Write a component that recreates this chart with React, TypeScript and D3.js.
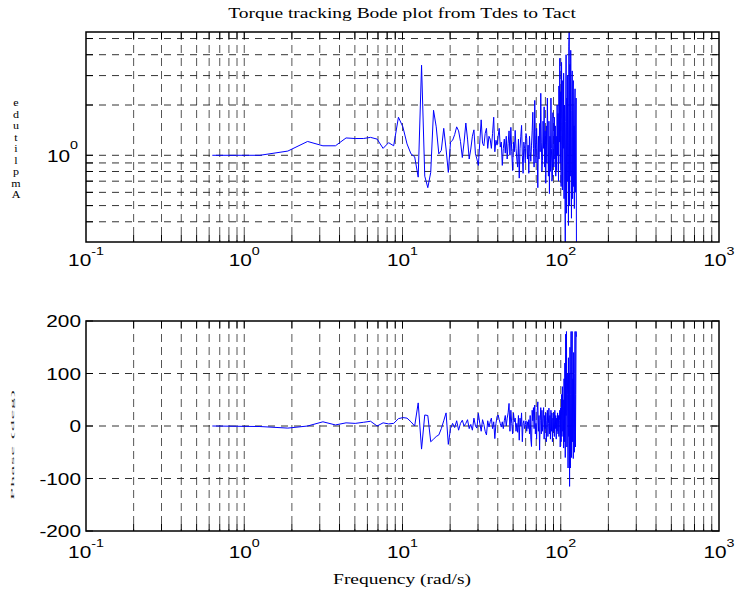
import React, { useEffect, useRef } from 'react';
import * as d3 from 'd3';

// frequency bins are spaced 0.1 Hz apart (in rad/s)
const freqStep = 0.2 * Math.PI;

const amplitude = [
  1.0, 1.0, 1.06, 1.21, 1.14, 1.14, 1.27, 1.26, 1.26, 1.28,
  1.25, 1.1, 1.19, 1.14, 1.69, 1.48, 1.17, 1.02, 0.98, 0.74,
  3.46, 0.75, 0.64, 0.79, 1.86, 1.48, 1.02, 1.07, 1.45, 1.09,
  0.79, 1.2, 1.23, 1.33, 1.48, 1.4, 1.21, 0.97, 1.2, 1.56,
  1.25, 0.95, 1.09, 1.3, 1.42, 1.02, 0.95, 0.87, 1.2, 1.63,
  1.18, 1.14, 1.35, 1.45, 1.1, 1.3, 1.25, 1.1, 1.35, 1.69,
  1.05, 1.23, 1.15, 1.3, 1.45, 1.12, 1.2, 0.87, 1.1, 1.25,
  1.03, 1.3, 0.95, 1.18, 1.4, 1.0, 1.47, 1.05, 0.81, 1.2,
  1.05, 1.41, 1.1, 0.95, 0.85, 1.25, 0.73, 1.1, 1.3, 1.51,
  1.0, 0.78, 1.2, 1.1, 0.9, 1.35, 1.26, 0.95, 1.15, 0.78,
  1.3, 1.05, 0.92, 1.15, 1.4, 1.81, 1.1, 0.85, 2.13, 1.2,
  0.9, 1.45, 1.0, 0.64, 1.3, 0.95, 1.55, 1.05, 2.35, 1.2,
  0.8, 0.93, 1.6, 1.1, 1.95, 0.85, 1.4, 0.68, 1.5, 0.9,
  2.2, 1.2, 0.75, 1.6, 0.59, 1.3, 0.8, 2.2, 1.1, 0.7,
  0.74, 1.8, 1.0, 0.85, 1.69, 0.95, 1.5, 0.75, 1.3, 0.81,
  2.0, 1.0, 1.78, 0.7, 2.6, 1.2, 3.81, 0.9, 2.4, 0.65,
  3.6, 1.5, 0.62, 2.8, 1.1, 3.1, 0.55, 2.0, 0.8, 0.3,
  1.6, 4.0, 0.45, 2.2, 0.7, 3.0, 1.2, 0.38, 4.5, 5.6,
  0.5, 3.5, 0.75, 4.25, 1.3, 0.42, 1.86, 3.2, 0.55, 2.4,
  2.8, 0.65, 1.5, 0.48, 2.0, 2.5, 0.6, 1.4, 2.2, 0.28,
];

const phase = [
  0, -1, -4, 0, 8, 2, 6, 5, 7, 9,
  0, 6, 4, 5, 14, 16, 15, 8, 0, 44,
  -44, 21, 20, -30, -25, -20, -17, -5, 10, 25,
  -35, -5, 5, -3, 10, -8, 5, 11, 0, 5,
  12, -5, 3, -8, 15, 0, -4, 24, 5, -10,
  12, 3, -10, -17, 10, -2, 8, 15, -5, 8,
  -24, 5, 18, 21, 12, 5, -2, 8, -5, 10,
  20, 0, 15, 25, 43, -10, 30, 5, -15, 25,
  8, 15, -10, 5, -12, 20, -27, 15, 0, 25,
  -30, 5, 10, -5, 3, 10, -10, 8, -5, 12,
  -15, 20, -25, -39, 30, 10, 35, -5, 40, -15,
  5, -25, 30, 46, -10, 20, -46, 10, 35, -15,
  30, -10, 15, 35, -25, 20, -5, 25, -30, 10,
  30, -20, 5, 34, -15, 20, -25, 30, -10, 25,
  -30, 15, -10, 25, -20, 30, -5, 20, -25, 15,
  -10, 25, -15, 20, -20, 10, 30, -40, 35, -30,
  60, -20, 75, -10, 50, -42, 90, -30, 120, -60,
  175, 20, 180, -40, 100, 60, -80, 130, -20, 100,
  -115, 150, -80, 60, 180, -60, 120, 180, -30, 90,
  -62, 140, 20, -50, 100, 180, -40, 60, 180, 170,
];

const xTickExponents = [-1, 0, 1, 2, 3];
const minorMultiples = [2, 3, 4, 5, 6, 7, 8, 9];
const ampGridValues = [0.4, 0.5, 0.6, 0.7, 0.8, 0.9, 1, 2, 3, 4, 5];
const ampLabelExponents = [0];
const phaseTicks = [-200, -100, 0, 100, 200];

const titleText = 'Torque tracking Bode plot from Tdes to Tact';
const xLabelText = 'Frequency (rad/s)';
const ampLabelText = 'Amplitude';
const phaseLabelText = 'Phase (deg)';

const sans = '"Liberation Sans", Arial, Helvetica, sans-serif';
const serif = '"Liberation Serif", "Times New Roman", serif';
const stretch = 1.3;

function drawChart(el: SVGSVGElement) {
  const svg = d3.select(el);
  svg.selectAll('*').remove();

  const left = 86;
  const right = 719;
  const x = d3.scaleLog().domain([0.1, 1000]).range([left, right]);

  const gridX: number[] = [];
  xTickExponents.slice(0, -1).forEach(e => {
    minorMultiples.forEach(m => gridX.push(m * Math.pow(10, e)));
    if (e > -1) gridX.push(Math.pow(10, e));
  });

  const freq = amplitude.map((_, i) => freqStep * (i + 1));

  const panels = [
    {
      top: 32,
      bottom: 242,
      y: d3.scaleLog().domain([0.3027, 5.47]),
      grid: ampGridValues,
      ticks: ampGridValues,
      values: amplitude,
      labelBase: 266,
    },
    {
      top: 321,
      bottom: 531,
      y: d3.scaleLinear().domain([-200, 200]),
      grid: phaseTicks.slice(1, -1),
      ticks: phaseTicks,
      values: phase,
      labelBase: 558,
    },
  ];

  panels.forEach((p, pi) => {
    const y = p.y.range([p.bottom, p.top]) as any;
    const g = svg.append('g');

    g.append('rect')
      .attr('x', left).attr('y', p.top)
      .attr('width', right - left).attr('height', p.bottom - p.top)
      .attr('fill', '#fff');

    // dashed grid
    g.selectAll('.vgrid')
      .data(gridX)
      .enter()
      .append('line')
      .attr('x1', d => x(d)).attr('x2', d => x(d))
      .attr('y1', p.top).attr('y2', p.bottom)
      .attr('stroke', '#555').attr('stroke-width', 1)
      .attr('stroke-dasharray', '8,5');
    g.selectAll('.hgrid')
      .data(p.grid)
      .enter()
      .append('line')
      .attr('x1', left).attr('x2', right)
      .attr('y1', d => y(d)).attr('y2', d => y(d))
      .attr('stroke', '#333').attr('stroke-width', 1)
      .attr('stroke-dasharray', '7,6');

    // data
    const clipId = `clip${pi}`;
    g.append('clipPath').attr('id', clipId)
      .append('rect')
      .attr('x', left).attr('y', p.top)
      .attr('width', right - left).attr('height', p.bottom - p.top);
    const line = d3.line<number>()
      .x((_, i) => x(freq[i]))
      .y(d => y(d));
    g.append('path')
      .datum(p.values)
      .attr('clip-path', `url(#${clipId})`)
      .attr('d', line)
      .attr('fill', 'none')
      .attr('stroke', '#0000ff')
      .attr('stroke-width', 1);

    // ticks, inward on all four sides
    const tl = 7;
    const ticks = g.append('g').attr('stroke', '#000').attr('stroke-width', 1);
    gridX.forEach(v => {
      ticks.append('line').attr('x1', x(v)).attr('x2', x(v)).attr('y1', p.bottom).attr('y2', p.bottom - tl);
      ticks.append('line').attr('x1', x(v)).attr('x2', x(v)).attr('y1', p.top).attr('y2', p.top + tl);
    });
    p.ticks.forEach(v => {
      ticks.append('line').attr('x1', left).attr('x2', left + tl).attr('y1', y(v)).attr('y2', y(v));
      ticks.append('line').attr('x1', right).attr('x2', right - tl).attr('y1', y(v)).attr('y2', y(v));
    });

    // box
    g.append('rect')
      .attr('x', left).attr('y', p.top)
      .attr('width', right - left).attr('height', p.bottom - p.top)
      .attr('fill', 'none').attr('stroke', '#000').attr('stroke-width', 1.5);

    // x tick labels 10^n
    xTickExponents.forEach(e => {
      const t = g.append('text')
        .attr('transform', `translate(${x(Math.pow(10, e))},${p.labelBase}) scale(${stretch},1)`)
        .attr('text-anchor', 'middle')
        .style('font-family', sans).style('font-size', '16px').attr('fill', '#000');
      t.append('tspan').text('10');
      t.append('tspan').attr('dy', -11).style('font-size', '11px').text(String(e));
    });
  });

  // amplitude y labels
  const yAmp = panels[0].y as any;
  ampLabelExponents.forEach(e => {
    const t = svg.append('text')
      .attr('transform', `translate(78,${yAmp(Math.pow(10, e)) + 7}) scale(${stretch},1)`)
      .attr('text-anchor', 'end')
      .style('font-family', sans).style('font-size', '16px');
    t.append('tspan').text('10');
    t.append('tspan').attr('dy', -13).style('font-size', '11px').text(String(e));
  });

  // phase y labels
  const yPh = panels[1].y as any;
  phaseTicks.forEach(v => {
    svg.append('text')
      .attr('transform', `translate(81,${yPh(v) + 6}) scale(${stretch},1)`)
      .attr('text-anchor', 'end')
      .style('font-family', sans).style('font-size', '16px')
      .text(String(v));
  });

  // title and x label
  svg.append('text')
    .attr('transform', `translate(402,18) scale(${stretch},1)`)
    .attr('text-anchor', 'middle')
    .style('font-family', serif).style('font-size', '15px')
    .text(titleText);
  svg.append('text')
    .attr('transform', `translate(402,584) scale(${stretch},1)`)
    .attr('text-anchor', 'middle')
    .style('font-family', serif).style('font-size', '15px')
    .text(xLabelText);

  // amplitude label: upright glyphs stacked bottom to top (as in the original print)
  ampLabelText.split('').forEach((ch, i) => {
    svg.append('text')
      .attr('transform', `translate(16,${198 - i * 11.5}) scale(1.2,1)`)
      .attr('text-anchor', 'middle')
      .style('font-family', serif).style('font-size', '10px')
      .text(ch);
  });

  // phase label: rotated text squashed to a thin column
  svg.append('text')
    .attr('transform', 'translate(13,445) rotate(-90) scale(1,0.14)')
    .attr('text-anchor', 'middle')
    .attr('dominant-baseline', 'central')
    .attr('textLength', 110)
    .attr('fill', '#222')
    .style('font-family', serif).style('font-size', '22px')
    .text(phaseLabelText);
}

export default function App() {
  const ref = useRef<SVGSVGElement>(null);

  useEffect(() => {
    if (ref.current) drawChart(ref.current);
  }, []);

  return (
    <svg
      ref={ref}
      width={735}
      height={594}
      style={{ position: 'absolute', left: 0, top: 0, background: '#fff' }}
    />
  );
}
